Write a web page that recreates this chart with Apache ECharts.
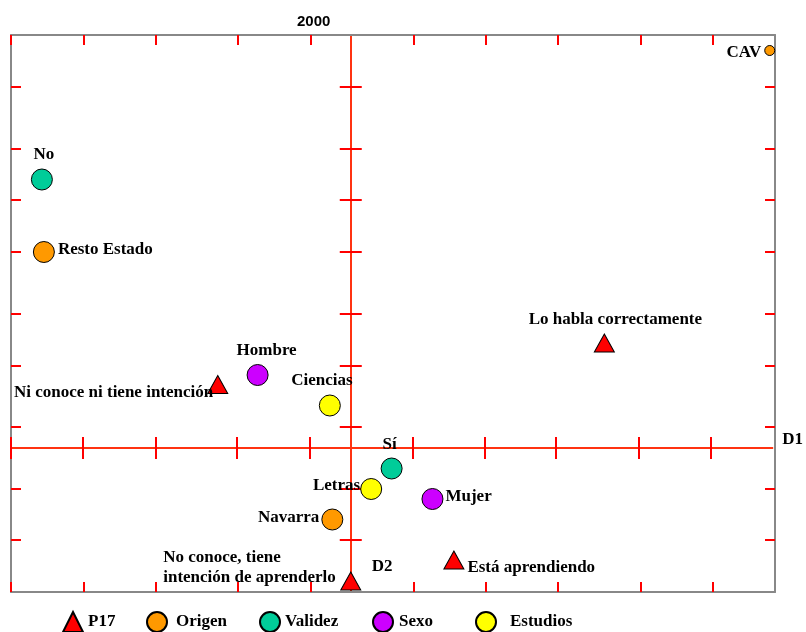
<!DOCTYPE html>
<html>
<head>
<meta charset="utf-8">
<script src="https://cdn.jsdelivr.net/npm/echarts@6/dist/echarts.min.js"></script>
<style>html,body{margin:0;padding:0;background:#fff}#chart{width:806px;height:632px}</style>
</head>
<body>
<div id="chart"></div>
<script>
// ---- data ----
const TITLE = '2000';
const CATEGORIES = ['P17', 'Origen', 'Validez', 'Sexo', 'Estudios'];

const P17_NAMES = ['Lo habla correctamente', 'Está aprendiendo', 'No conoce, tiene\nintención de aprenderlo', 'Ni conoce ni tiene intención'];
const P17_X = [0.509, 0.207, 0.000, -0.267];
const P17_Y = [0.210, -0.224, -0.266, 0.127];

const ORIGEN_NAMES = ['CAV', 'Resto Estado', 'Navarra'];
const ORIGEN_X = [0.841, -0.616, -0.037];
const ORIGEN_Y = [0.795, 0.392, -0.143];

const VALIDEZ_NAMES = ['Sí', 'No'];
const VALIDEZ_X = [0.082, -0.620];
const VALIDEZ_Y = [-0.041, 0.537];

const SEXO_NAMES = ['Hombre', 'Mujer'];
const SEXO_X = [-0.187, 0.164];
const SEXO_Y = [0.146, -0.102];

const ESTUDIOS_NAMES = ['Ciencias', 'Letras'];
const ESTUDIOS_X = [-0.042, 0.041];
const ESTUDIOS_Y = [0.085, -0.082];

const X_MIN = -0.682, X_MAX = 0.846;
const Y_MIN = -0.288, Y_MAX = 0.826;
const X_TICKS = [-0.682, -0.537, -0.392, -0.228, -0.082, 0.124, 0.268, 0.412, 0.578, 0.722];
const Y_TICKS = [-0.184, -0.082, 0.043, 0.165, 0.269, 0.392, 0.496, 0.599, 0.723];
const X_NAME = 'D1';
const Y_NAME = 'D2';

// ---- styles ----
const SERIF = "'Liberation Serif', 'Times New Roman', serif";
const COLORS = { 'P17': '#ff0000', 'Origen': '#ff9900', 'Validez': '#00cc99', 'Sexo': '#cc00ff', 'Estudios': '#ffff00' };
const SYMBOLS = { 'P17': 'triangle', 'Origen': 'circle', 'Validez': 'circle', 'Sexo': 'circle', 'Estudios': 'circle' };
const SIZES = { 'P17': [20, 18], 'Origen': 21, 'Validez': 21, 'Sexo': 21, 'Estudios': 21 };
const POINT_STYLE = {
  'Lo habla correctamente': { position: 'top', offset: [11, 0] },
  'Está aprendiendo': { position: 'right', offset: [-2, 8] },
  'No conoce, tiene\nintención de aprenderlo': { position: [-177, -24], align: 'left', verticalAlign: 'top', lineHeight: 20 },
  'Ni conoce ni tiene intención': { position: 'left', offset: [11, 8] },
  'CAV': { position: 'left', offset: [2, 2], symbolSize: 10 },
  'Resto Estado': { position: 'right', offset: [-2, -2] },
  'Navarra': { position: 'left', offset: [3, -2] },
  'Sí': { position: 'top', offset: [-2, 1] },
  'No': { position: 'top', offset: [2, 0] },
  'Hombre': { position: 'top', offset: [9, 0] },
  'Mujer': { position: 'right', offset: [-3, -2] },
  'Ciencias': { position: 'top', offset: [-8, 0] },
  'Letras': { position: 'left', offset: [5, -3] }
};
const LEGEND_LEFT = [62, 146, 259, 372, 475];
const LEGEND_PAD = [0, 4, 0, 1, 9];

const GRID = { left: 11, top: 35, width: 764, height: 557 };
const FRAME_COLOR = '#888888';
const TICK_COLOR = '#ff0000';
const ZERO_COLOR = '#ff3311';

function buildData(names, xs, ys) {
  return names.map((n, i) => {
    const st = POINT_STYLE[n] || {};
    const item = { name: n, value: [xs[i], ys[i]], label: {} };
    ['position', 'offset', 'align', 'verticalAlign', 'lineHeight'].forEach(k => { if (st[k] !== undefined) item.label[k] = st[k]; });
    if (st.symbolSize !== undefined) item.symbolSize = st.symbolSize;
    return item;
  });
}

const SERIES_DATA = {
  'P17': buildData(P17_NAMES, P17_X, P17_Y),
  'Origen': buildData(ORIGEN_NAMES, ORIGEN_X, ORIGEN_Y),
  'Validez': buildData(VALIDEZ_NAMES, VALIDEZ_X, VALIDEZ_Y),
  'Sexo': buildData(SEXO_NAMES, SEXO_X, SEXO_Y),
  'Estudios': buildData(ESTUDIOS_NAMES, ESTUDIOS_X, ESTUDIOS_Y)
};

function frameAxis(dim, position) {
  return {
    type: 'value', gridIndex: 0, position: position,
    min: dim === 'x' ? X_MIN : Y_MIN, max: dim === 'x' ? X_MAX : Y_MAX,
    axisLine: { show: true, onZero: false, lineStyle: { color: FRAME_COLOR, width: 2 } },
    axisTick: { show: true, inside: true, length: 10, customValues: dim === 'x' ? X_TICKS : Y_TICKS, lineStyle: { color: TICK_COLOR, width: 2 } },
    axisLabel: { show: false },
    splitLine: { show: false }
  };
}
function zeroAxis(dim, position, zeroIdx, extra) {
  return Object.assign({
    type: 'value', gridIndex: 1, position: position,
    min: dim === 'x' ? X_MIN : Y_MIN, max: dim === 'x' ? X_MAX : Y_MAX,
    axisLine: { show: true, onZero: true, onZeroAxisIndex: zeroIdx, lineStyle: { color: ZERO_COLOR, width: 2 } },
    axisTick: { show: true, inside: false, length: 11, customValues: dim === 'x' ? X_TICKS : Y_TICKS, lineStyle: { color: TICK_COLOR, width: 2 } },
    axisLabel: { show: false },
    splitLine: { show: false }
  }, extra || {});
}

const option = {
  animation: false,
  backgroundColor: '#ffffff',
  title: {
    text: TITLE, left: 292, top: 9,
    textStyle: { fontFamily: "'Liberation Sans', Arial, sans-serif", fontWeight: 'bold', fontSize: 15, color: '#000' }
  },
  grid: [Object.assign({}, GRID), Object.assign({}, GRID)],
  xAxis: [
    frameAxis('x', 'bottom'),
    frameAxis('x', 'top'),
    zeroAxis('x', 'bottom', 2, {
      name: X_NAME, nameLocation: 'end', nameGap: 10,
      nameTextStyle: { fontFamily: SERIF, fontWeight: 'bold', fontSize: 17, color: '#000', verticalAlign: 'bottom', align: 'left' }
    }),
    zeroAxis('x', 'top', 3)
  ],
  yAxis: [
    frameAxis('y', 'left'),
    frameAxis('y', 'right'),
    zeroAxis('y', 'left', 2, {
      name: Y_NAME, nameLocation: 'start', nameGap: -25,
      nameTextStyle: { fontFamily: SERIF, fontWeight: 'bold', fontSize: 17, color: '#000', align: 'left', verticalAlign: 'middle', padding: [0, 0, 0, 21] }
    }),
    zeroAxis('y', 'right', 3)
  ],
  legend: CATEGORIES.map((c, i) => ({
    data: [c], left: LEGEND_LEFT[i], top: 611, padding: 0, itemWidth: 20, itemHeight: 20, selectedMode: false,
    textStyle: { fontFamily: SERIF, fontWeight: 'bold', fontSize: 17, color: '#000', padding: [0, 0, 0, LEGEND_PAD[i]] }
  })),
  series: CATEGORIES.map(c => ({
    type: 'scatter', name: c, xAxisIndex: 2, yAxisIndex: 2, clip: false,
    symbol: SYMBOLS[c], symbolSize: SIZES[c],
    itemStyle: { color: COLORS[c], borderColor: '#000', borderWidth: 1, opacity: 1 },
    label: { show: true, formatter: '{b}', color: '#000', fontFamily: SERIF, fontWeight: 'bold', fontSize: 17, distance: 5 },
    emphasis: { disabled: true },
    data: SERIES_DATA[c],
    z: 5
  }))
};

const chart = echarts.init(document.getElementById('chart'), null, { renderer: 'canvas' });
chart.setOption(option);
</script>
</body>
</html>
